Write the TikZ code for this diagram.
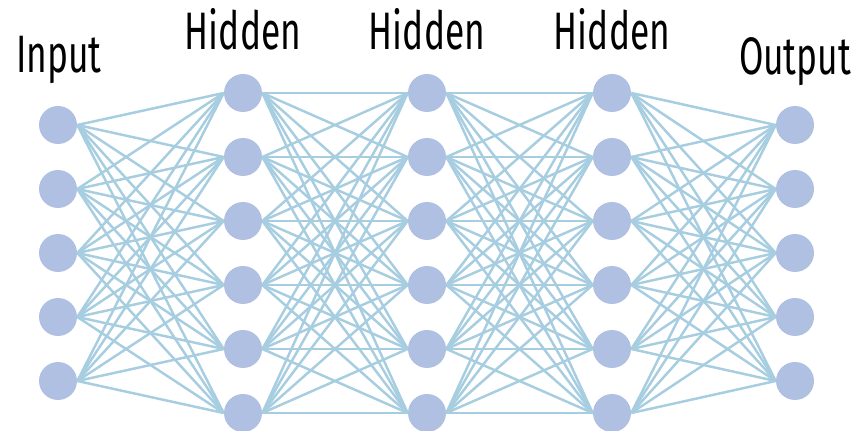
\documentclass[tikz,border=0pt]{standalone}
\usepackage{fontspec}
\newfontfamily\layerfont[FakeStretch=0.67]{Fira Sans}
\usepackage{tikz}
\usetikzlibrary{positioning}
\usepackage{xcolor}
\definecolor{NeuronFill}{HTML}{AFC0E3}
\definecolor{SynapseLine}{HTML}{A7CDE0}

\begin{document}
\begin{tikzpicture}[
    x=0.02cm, y=-0.02cm,
    neuron/.style={circle, fill=NeuronFill, draw=none, minimum size=0.76cm,
                   inner sep=0pt},
    layertitle/.style={anchor=base, font=\layerfont\fontsize{30}{34}\selectfont,
                       inner sep=0pt},
    synapse/.style={draw=SynapseLine, line width=1.4pt},
  ]
    \useasboundingbox (0,0) rectangle (861,431);

    % layer titles
    \node[layertitle] (tin)  at (59,73)  {Input};
    \node[layertitle] (thA)  at (243,50) {Hidden};
    \node[layertitle] (thB)  at (427,50) {Hidden};
    \node[layertitle] (thC)  at (612,50) {Hidden};
    \node[layertitle] (tout) at (795,75) {Output};

    % neurons
    \foreach \i in {1,...,5}
      \node[neuron] (in-\i) at (58,{125+64*(\i-1)}) {};
    \foreach \lay/\xx in {hA/243, hB/427, hC/612}
      \foreach \j in {1,...,6}
        \node[neuron] (\lay-\j) at (\xx,{93+64*(\j-1)}) {};
    \foreach \i in {1,...,5}
      \node[neuron] (out-\i) at (795,{125+64*(\i-1)}) {};

    % connections
    \foreach \i in {1,...,5}
      \foreach \j in {1,...,6} {
        \draw[synapse] (in-\i.east) -- (hA-\j.west);
        \draw[synapse] (hC-\j.east) -- (out-\i.west);
      }
    \foreach \i in {1,...,6}
      \foreach \j in {1,...,6} {
        \draw[synapse] (hA-\i.east) -- (hB-\j.west);
        \draw[synapse] (hB-\i.east) -- (hC-\j.west);
      }
  \end{tikzpicture}
\end{document}
